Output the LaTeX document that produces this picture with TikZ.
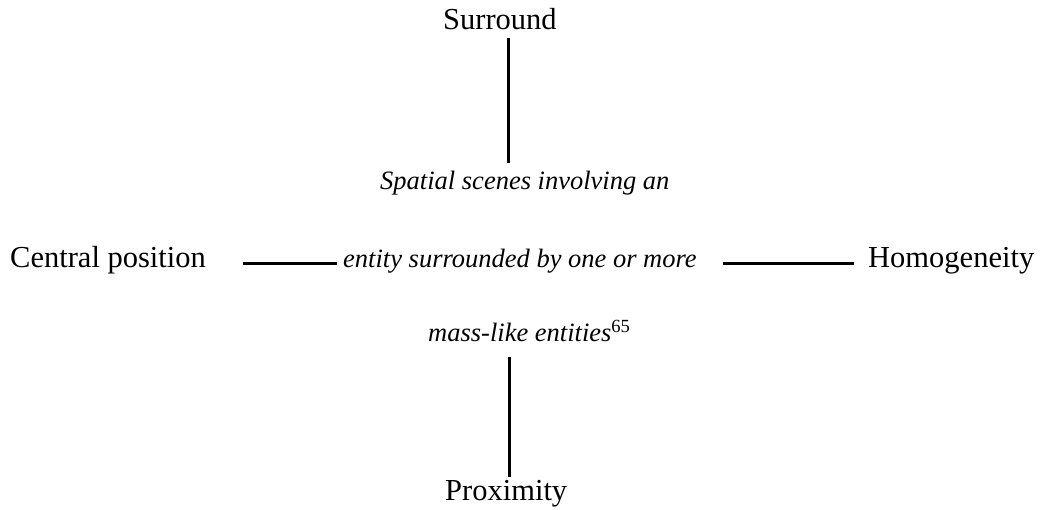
\documentclass[tikz,border=0pt]{standalone}
\usepackage{fontspec}
\setmainfont{Liberation Serif}
\begin{document}
\begin{tikzpicture}[x=1pt,y=-1pt,
  lbl/.style={inner sep=0pt,anchor=base west,font=\fontsize{30.5}{36}\selectfont},
  ctr/.style={inner sep=0pt,anchor=base west,font=\fontsize{26.5}{32}\selectfont\itshape},
  link/.style={line width=3pt,line cap=butt}]
\useasboundingbox (0,0) rectangle (1044,510);
\node[lbl] (sur) at (443,30) {Surround};
\node[lbl] (prox) at (445,500) {Proximity};
\node[lbl] (cen) at (10,268) {Central position};
\node[lbl] (hom) at (868,268) {Homogeneity};
\node[ctr] (c1) at (380,190) {Spatial scenes involving an};
\node[ctr] (c2) at (343,268) {entity surrounded by one or more};
\node[ctr] (c3) at (428,342) {mass-like entities\textsuperscript{\upshape 65}};
\coordinate (a1) at (508,38);
\coordinate (a2) at (508,163);
\coordinate (b1) at (509.5,357);
\coordinate (b2) at (509.5,477);
\coordinate (l1) at (243,264);
\coordinate (l2) at (337,264);
\coordinate (r1) at (723,264);
\coordinate (r2) at (854,264);
\draw[link] (a1) -- (a2);
\draw[link] (b1) -- (b2);
\draw[link] (l1) -- (l2);
\draw[link] (r1) -- (r2);
\end{tikzpicture}
\end{document}
